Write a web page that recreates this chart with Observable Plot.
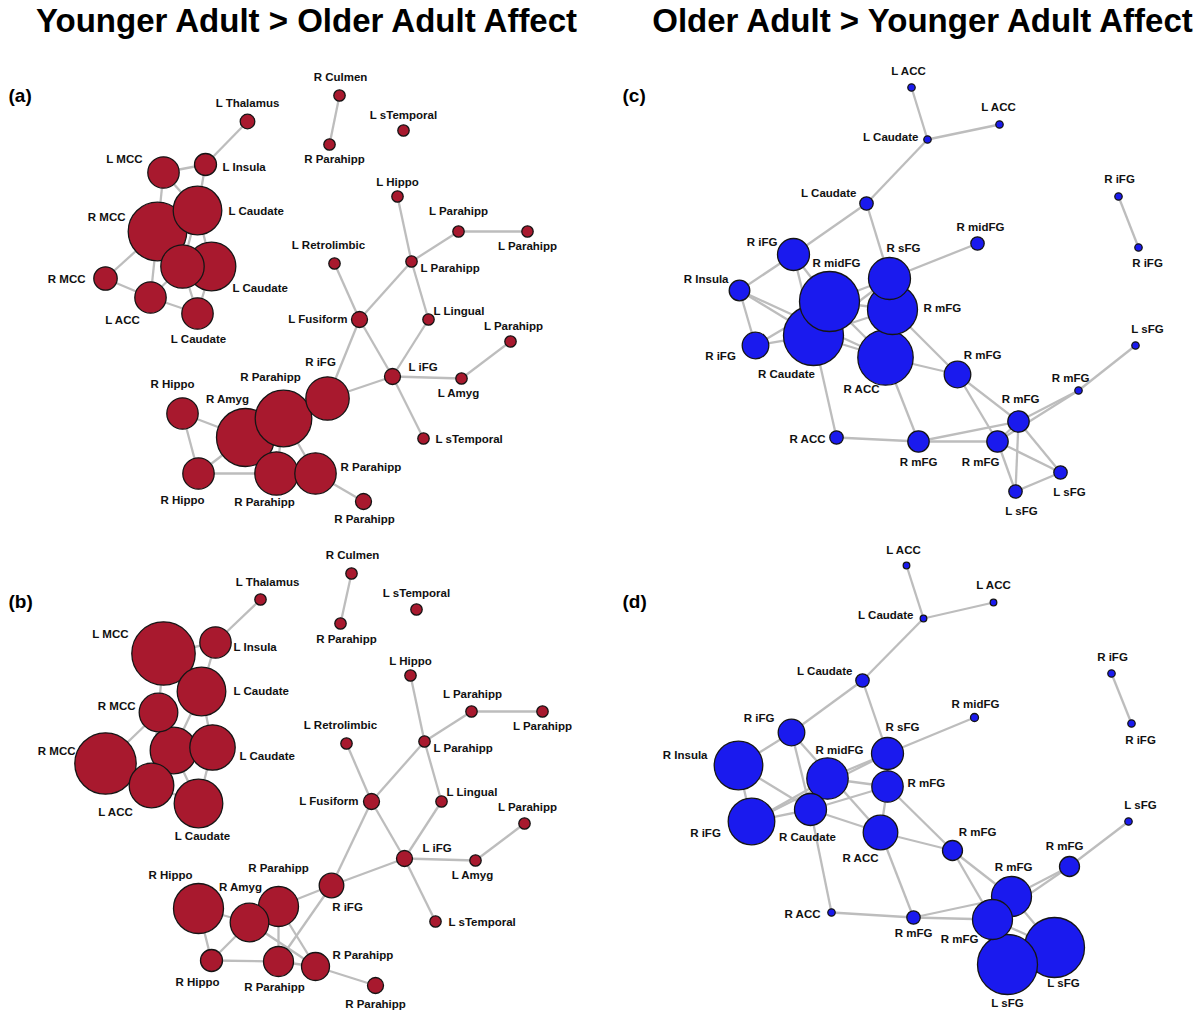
<!DOCTYPE html>
<html><head><meta charset="utf-8">
<script src="https://cdn.jsdelivr.net/npm/d3@7"></script>
<script src="https://cdn.jsdelivr.net/npm/@observablehq/plot@0.6"></script>
<style>body{margin:0;background:#fff;}</style>
</head><body><div id="chart"></div>
<script>
// Titles and panel letters
const titles = ["Younger Adult > Older Adult Affect", "Older Adult > Younger Adult Affect"];
const panelLetters = ["(a)", "(b)", "(c)", "(d)"];

// Network layouts: [region, layout x, layout y, node strength, label x, label y, label anchor]
const nodesA = [
  ["L Thalamus",247,121,7.3,247,103,"m"],
  ["L Insula",205,164,11,222,167,"s"],
  ["L MCC",163,172,15.7,142,159,"e"],
  ["R MCC",157,231,29.3,125,217,"e"],
  ["L Caudate",197,210,24.3,228,211,"s"],
  ["",182,266,21.7,0,0,"m"],
  ["L Caudate",211,266,24.3,232,288,"s"],
  ["R MCC",105,278,11.7,85,279,"e"],
  ["L ACC",150,297,15.7,122,320,"m"],
  ["L Caudate",197,313,15.7,198,339,"m"],
  ["R Culmen",339,95,5.7,340,77,"m"],
  ["R Parahipp",329,144,5.7,334,159,"m"],
  ["L sTemporal",403,130,5.7,403,115,"m"],
  ["L Hippo",397,196,5.7,397,182,"m"],
  ["L Parahipp",458,231,5.7,458,211,"m"],
  ["L Parahipp",527,231,5.7,527,246,"m"],
  ["L Parahipp",411,261,5.7,420,268,"s"],
  ["L Retrolimbic",334,263,5.7,328,245,"m"],
  ["L Fusiform",359,319,8,347,319,"e"],
  ["L Lingual",428,319,5.7,433,311,"s"],
  ["L Parahipp",510,341,5.7,513,326,"m"],
  ["L iFG",392,376,8,408,367,"s"],
  ["L Amyg",461,378,5.7,458,393,"m"],
  ["L sTemporal",423,438,5.7,435,439,"s"],
  ["R iFG",327,398,21.7,320,362,"m"],
  ["R Parahipp",283,418,28.3,270,377,"m"],
  ["R Amyg",245,437,29,227,399,"m"],
  ["R Hippo",182,413,15.7,172,384,"m"],
  ["R Hippo",198,473,15.7,182,500,"m"],
  ["R Parahipp",276,473,21.7,264,502,"m"],
  ["R Parahipp",315,473,20.7,340,467,"s"],
  ["R Parahipp",363,501,8,364,519,"m"]
];
const edgesA = [[1,2],[2,3],[2,5],[3,4],[3,5],[4,5],[4,8],[8,9],[4,9],[5,6],[5,7],[6,7],[6,9],[6,10],[7,10],[9,10],
  [11,12],[14,17],[17,15],[15,16],[17,19],[17,20],[18,19],[19,22],[19,25],[20,22],[22,23],[23,21],[22,24],[22,25],
  [25,26],[26,27],[27,28],[28,29],[29,27],[29,30],[27,30],[26,31],[30,31],[31,32],[26,30]];

const nodesB = [
  ["L Thalamus",260,599,5.7,267,582,"m"],
  ["L Insula",215,642,15.7,233,647,"s"],
  ["L MCC",163,653,31.7,128,634,"e"],
  ["L Caudate",201,691,24.3,233,691,"s"],
  ["R MCC",158,712,19.3,135,706,"e"],
  ["",173,750,23.3,0,0,"m"],
  ["L Caudate",212,747,22.7,239,756,"s"],
  ["R MCC",105,763,30.7,75,751,"e"],
  ["L ACC",151,785,22.3,115,812,"m"],
  ["L Caudate",198,803,24.3,202,836,"m"],
  ["R Culmen",351,573,5.7,352,555,"m"],
  ["R Parahipp",340,623,5.7,346,639,"m"],
  ["L sTemporal",416,609,5.7,416,593,"m"],
  ["L Hippo",410,675,5.7,410,661,"m"],
  ["L Parahipp",471,711,5.7,472,694,"m"],
  ["L Parahipp",542,711,5.7,542,726,"m"],
  ["L Parahipp",424,741,5.7,433,748,"s"],
  ["L Retrolimbic",346,743,5.7,340,725,"m"],
  ["L Fusiform",371,801,8,358,801,"e"],
  ["L Lingual",441,801,5.7,446,792,"s"],
  ["L Parahipp",524,823,5.7,527,807,"m"],
  ["L iFG",404,858,8,422,848,"s"],
  ["L Amyg",475,860,5.7,472,875,"m"],
  ["L sTemporal",435,921,5.7,448,922,"s"],
  ["R iFG",331,885,12.3,347,907,"m"],
  ["R Parahipp",278,906,20,278,868,"m"],
  ["R Amyg",249,922,19.3,240,887,"m"],
  ["R Hippo",198,908,25,170,875,"m"],
  ["R Hippo",211,960,11,197,982,"m"],
  ["R Parahipp",278,961,15,274,987,"m"],
  ["R Parahipp",315,966,14,332,955,"s"],
  ["R Parahipp",375,985,8,375,1004,"m"]
];
const edgesB = [[1,2],[2,3],[2,4],[3,4],[3,5],[4,6],[4,7],[5,6],[5,8],[5,9],[6,7],[6,9],[6,10],[7,10],[8,9],[9,10],
  [11,12],[14,17],[17,15],[15,16],[17,19],[17,20],[18,19],[19,22],[19,25],[20,22],[22,23],[23,21],[22,24],[22,25],
  [25,26],[26,27],[27,28],[28,29],[29,27],[29,30],[26,30],[26,31],[27,31],[25,30],[30,31],[31,32]];

const nodesC = [
  ["L ACC",911,87,3.7,908,71,"m"],
  ["L Caudate",927,139,3.7,918,137,"e"],
  ["L ACC",999,124,3.7,998,107,"m"],
  ["L Caudate",866,203,6.7,856,193,"e"],
  ["R iFG",793,254,16,777,242,"e"],
  ["R Insula",739,290,10.3,728,279,"e"],
  ["R Caudate",813,335,30,786,374,"m"],
  ["R midFG",829,301,30,836,263,"m"],
  ["R iFG",755,345,13.3,720,356,"m"],
  ["R mFG",892,309,25,923,308,"s"],
  ["R sFG",889,278,21,903,248,"m"],
  ["R ACC",885,357,27.7,861,389,"m"],
  ["R midFG",977,243,6.7,980,227,"m"],
  ["R mFG",957,374,13.3,982,355,"m"],
  ["R ACC",836,437,6.7,825,439,"e"],
  ["R mFG",918,441,10.7,918,462,"m"],
  ["R mFG",997,441,10.7,980,462,"m"],
  ["R mFG",1018,421,10.7,1020,399,"m"],
  ["R mFG",1078,390,3.7,1070,378,"m"],
  ["L sFG",1060,472,6.7,1069,492,"m"],
  ["L sFG",1015,491,6.7,1021,511,"m"],
  ["L sFG",1135,345,3.7,1147,329,"m"],
  ["R iFG",1118,196,3.7,1119,179,"m"],
  ["R iFG",1138,247,3.7,1147,263,"m"]
];
const edgesC = [[1,2],[2,3],[2,4],[4,5],[4,11],[5,6],[5,7],[5,8],[6,9],[6,7],[6,12],[9,7],[9,8],[7,8],[8,11],[8,10],
  [7,10],[7,12],[8,12],[7,11],[10,11],[11,13],[10,12],[10,14],[12,14],[7,15],[12,16],[15,16],[16,17],[16,18],
  [14,18],[14,17],[17,18],[18,19],[17,19],[19,22],[18,20],[18,21],[17,21],[17,20],[20,21],[23,24]];

const nodesD = [
  ["L ACC",906,565,3.3,903,550,"m"],
  ["L Caudate",923,618,3.3,913,615,"e"],
  ["L ACC",993,602,3.3,993,585,"m"],
  ["L Caudate",862,680,6.7,852,671,"e"],
  ["R iFG",791,732,13.3,774,718,"e"],
  ["R Insula",738,765,24.3,707,755,"e"],
  ["R iFG",751,821,23.3,705,833,"m"],
  ["R Caudate",810,809,16,807,837,"m"],
  ["R midFG",827,778,20.7,839,750,"m"],
  ["R mFG",887,786,15.7,907,783,"s"],
  ["R sFG",887,753,16,902,727,"m"],
  ["R ACC",880,832,17.3,860,858,"m"],
  ["R midFG",974,717,4,975,704,"m"],
  ["R mFG",952,850,10,977,832,"m"],
  ["R ACC",831,912,3.7,820,914,"e"],
  ["R mFG",913,917,6.7,913,933,"m"],
  ["R mFG",1011,896,20,1013,867,"m"],
  ["R mFG",992,919,20,959,939,"m"],
  ["R mFG",1069,866,10,1064,846,"m"],
  ["L sFG",1054,947,30,1063,983,"m"],
  ["L sFG",1007,964,30,1007,1003,"m"],
  ["L sFG",1128,821,3.7,1140,805,"m"],
  ["R iFG",1111,673,3.7,1112,657,"m"],
  ["R iFG",1131,723,3.7,1140,740,"m"]
];
const edgesD = [[1,2],[2,3],[2,4],[4,5],[4,11],[5,6],[5,8],[5,12],[6,7],[6,8],[7,8],[7,9],[7,11],[8,9],[8,10],[8,12],
  [8,15],[9,11],[9,10],[10,11],[11,13],[10,12],[10,14],[12,14],[12,16],[15,16],[16,18],[16,17],[14,17],[14,18],
  [17,18],[17,19],[18,19],[19,22],[17,20],[18,21],[20,21],[18,20],[23,24]];

const panelColors = ["#a8192e", "#a8192e", "#1a1aee", "#1a1aee"];

// Build tables
const panels = [[nodesA, edgesA], [nodesB, edgesB], [nodesC, edgesC], [nodesD, edgesD]].map(([ns, es], p) => {
  const nodes = ns.map(([name, x, y, s, lx, ly, a]) => ({name, x, y, s, lx, ly, a, p}));
  const links = es.map(([i, j]) => ({x1: nodes[i-1].x, y1: nodes[i-1].y, x2: nodes[j-1].x, y2: nodes[j-1].y}));
  return {nodes, links, color: panelColors[p]};
});

const font = "'Liberation Sans', Arial, Helvetica, sans-serif";
const allNodes = panels.flatMap(p => p.nodes).filter(d => d.name);
const anchorMap = {s: "start", e: "end", m: "middle"};

const marks = [];
panels.forEach(p => marks.push(Plot.link(p.links, {x1: "x1", y1: "y1", x2: "x2", y2: "y2", stroke: "#bdbdbd", strokeWidth: 2.3})));
panels.forEach(p => marks.push(Plot.dot(p.nodes, {x: "x", y: "y", r: "s", fill: p.color, stroke: "#151515", strokeWidth: 1.3})));
["s", "e", "m"].forEach(a => marks.push(Plot.text(allNodes.filter(d => d.a === a), {
  x: "lx", y: "ly", text: "name", textAnchor: anchorMap[a], fontSize: 11.5, fontWeight: "bold", fontFamily: font, fill: "#111"
})));
const titleData = titles.map((t, i) => ({t, x: i === 0 ? 306 : 922, y: 21}));
marks.push(Plot.text(titleData, {x: "x", y: "y", text: "t", fontSize: 33, fontWeight: "bold", fontFamily: font, fill: "#000"}));
const letterData = panelLetters.map((t, i) => ({t, x: i < 2 ? 8 : 622, y: i % 2 === 0 ? 95 : 601}));
marks.push(Plot.text(letterData, {x: "x", y: "y", text: "t", textAnchor: "start", fontSize: 19, fontWeight: "bold", fontFamily: font, fill: "#000"}));

const chart = Plot.plot({
  width: 1200, height: 1012, margin: 0,
  style: {background: "#fff"},
  x: {domain: [0, 1200], range: [0, 1200], axis: null},
  y: {domain: [0, 1012], range: [0, 1012], axis: null},
  r: {type: "linear", domain: [0, 40], range: [0, 40]},
  marks
});
document.getElementById("chart").appendChild(chart);
</script>
</body></html>
